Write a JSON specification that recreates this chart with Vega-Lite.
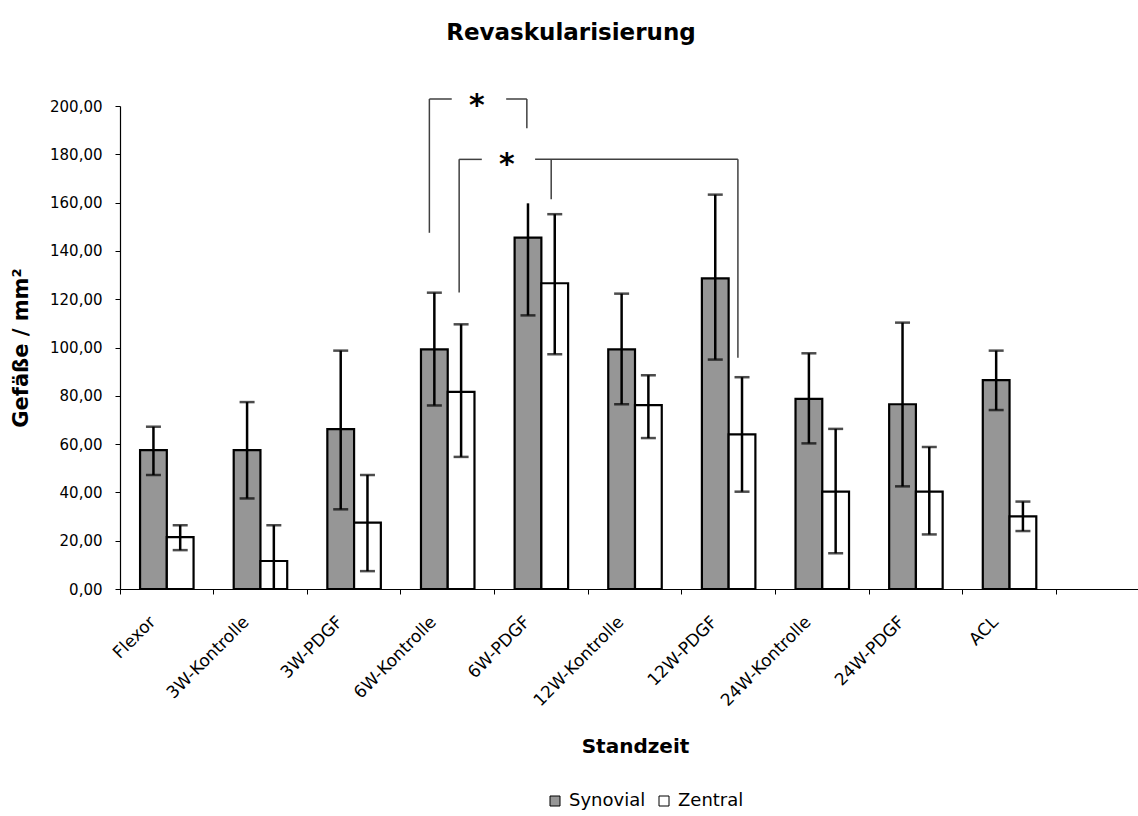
{
  "$schema": "https://vega.github.io/schema/vega-lite/v6.json",
  "autosize": {"type": "none"},
  "padding": {"left": 120, "top": 106, "right": 0, "bottom": 227},
  "width": 1018,
  "height": 483,
  "background": "white",
  "config": {
    "font": "DejaVu Sans",
    "view": {"stroke": null}
  },
  "title": {
    "text": "Revaskularisierung",
    "font": "DejaVu Sans",
    "fontSize": 23,
    "fontWeight": "bold",
    "color": "black",
    "anchor": "middle",
    "dx": -58,
    "offset": 46
  },
  "datasets": {
    "bars": [
      {"cat": "Flexor", "series": "Synovial", "value": 57.5, "lo": 47.2, "hi": 67.2, "capTop": true, "capBot": true},
      {"cat": "Flexor", "series": "Zentral", "value": 21.5, "lo": 16.1, "hi": 26.4, "capTop": true, "capBot": true},
      {"cat": "3W-Kontrolle", "series": "Synovial", "value": 57.5, "lo": 37.5, "hi": 77.4, "capTop": true, "capBot": true},
      {"cat": "3W-Kontrolle", "series": "Zentral", "value": 11.6, "lo": 0, "hi": 26.4, "capTop": true, "capBot": false},
      {"cat": "3W-PDGF", "series": "Synovial", "value": 66.2, "lo": 33.0, "hi": 98.7, "capTop": true, "capBot": true},
      {"cat": "3W-PDGF", "series": "Zentral", "value": 27.5, "lo": 7.4, "hi": 47.2, "capTop": true, "capBot": true},
      {"cat": "6W-Kontrolle", "series": "Synovial", "value": 99.2, "lo": 76.0, "hi": 122.7, "capTop": true, "capBot": true},
      {"cat": "6W-Kontrolle", "series": "Zentral", "value": 81.6, "lo": 54.7, "hi": 109.6, "capTop": true, "capBot": true},
      {"cat": "6W-PDGF", "series": "Synovial", "value": 145.5, "lo": 113.3, "hi": 159.7, "capTop": false, "capBot": true},
      {"cat": "6W-PDGF", "series": "Zentral", "value": 126.6, "lo": 97.2, "hi": 155.2, "capTop": true, "capBot": true},
      {"cat": "12W-Kontrolle", "series": "Synovial", "value": 99.2, "lo": 76.5, "hi": 122.3, "capTop": true, "capBot": true},
      {"cat": "12W-Kontrolle", "series": "Zentral", "value": 76.1, "lo": 62.5, "hi": 88.5, "capTop": true, "capBot": true},
      {"cat": "12W-PDGF", "series": "Synovial", "value": 128.6, "lo": 95.0, "hi": 163.3, "capTop": true, "capBot": true},
      {"cat": "12W-PDGF", "series": "Zentral", "value": 64.0, "lo": 40.3, "hi": 87.7, "capTop": true, "capBot": true},
      {"cat": "24W-Kontrolle", "series": "Synovial", "value": 78.7, "lo": 60.3, "hi": 97.6, "capTop": true, "capBot": true},
      {"cat": "24W-Kontrolle", "series": "Zentral", "value": 40.3, "lo": 14.8, "hi": 66.3, "capTop": true, "capBot": true},
      {"cat": "24W-PDGF", "series": "Synovial", "value": 76.5, "lo": 42.5, "hi": 110.3, "capTop": true, "capBot": true},
      {"cat": "24W-PDGF", "series": "Zentral", "value": 40.3, "lo": 22.6, "hi": 58.8, "capTop": true, "capBot": true},
      {"cat": "ACL", "series": "Synovial", "value": 86.5, "lo": 74.1, "hi": 98.7, "capTop": true, "capBot": true},
      {"cat": "ACL", "series": "Zentral", "value": 30.1, "lo": 24.0, "hi": 36.2, "capTop": true, "capBot": true}
    ],
    "brackets": [
      {"xa": 3.304, "xb": 3.304, "ya": 147.5, "yb": 202.9},
      {"xa": 3.304, "xb": 3.543, "ya": 202.9, "yb": 202.9},
      {"xa": 4.124, "xb": 4.345, "ya": 202.9, "yb": 202.9},
      {"xa": 4.345, "xb": 4.345, "ya": 202.9, "yb": 190.8},
      {"xa": 3.622, "xb": 3.622, "ya": 122.8, "yb": 177.9},
      {"xa": 3.622, "xb": 3.864, "ya": 177.9, "yb": 177.9},
      {"xa": 4.433, "xb": 6.599, "ya": 177.9, "yb": 177.9},
      {"xa": 4.605, "xb": 4.605, "ya": 177.9, "yb": 161.4},
      {"xa": 6.599, "xb": 6.599, "ya": 177.9, "yb": 95.8}
    ],
    "stars": [
      {"xs": 3.811, "ys": 201.8, "label": "*"},
      {"xs": 4.132, "ys": 177.2, "label": "*"}
    ]
  },
  "layer": [
    {
      "data": {"name": "bars"},
      "encoding": {
        "x": {
          "field": "cat",
          "type": "nominal",
          "sort": null,
          "scale": {
            "domain": ["Flexor", "3W-Kontrolle", "3W-PDGF", "6W-Kontrolle", "6W-PDGF", "12W-Kontrolle", "12W-PDGF", "24W-Kontrolle", "24W-PDGF", "ACL", "_"],
            "range": [0, 1030],
            "paddingInner": 0,
            "paddingOuter": 0
          },
          "axis": {
            "title": "Standzeit",
            "titleFont": "DejaVu Sans",
            "titleFontSize": 20,
            "titleFontWeight": "bold",
            "titleColor": "black",
            "titleY": 163,
            "titleBaseline": "alphabetic",
            "bandPosition": 0,
            "labelAngle": -45,
            "labelAlign": "right",
            "labelBaseline": "middle",
            "labelFont": "DejaVu Sans",
            "labelFontSize": 17,
            "labelColor": "black",
            "labelPadding": 25,
            "labelOffset": -14,
            "labelExpr": "datum.value == '_' ? '' : datum.value",
            "labelOverlap": false,
            "tickSize": 5,
            "tickColor": "black",
            "domainColor": "black",
            "domainWidth": 1.2,
            "grid": false
          }
        },
        "xOffset": {
          "field": "series",
          "type": "nominal",
          "scale": {"domain": ["Synovial", "Zentral"], "paddingOuter": 0.75, "paddingInner": 0}
        },
        "y": {
          "type": "quantitative",
          "scale": {"domain": [0, 200], "nice": false, "zero": true},
          "axis": {
            "title": "Gefäße / mm²",
            "titleFont": "DejaVu Sans",
            "titleFontSize": 21,
            "titleFontWeight": "bold",
            "titleColor": "black",
            "titleX": -93,
            "titleBaseline": "alphabetic",
            "values": [0, 20, 40, 60, 80, 100, 120, 140, 160, 180, 200],
            "labelExpr": "replace(format(datum.value, '.2f'), '.', ',')",
            "labelFont": "DejaVu Sans",
            "labelFontSize": 15,
            "labelColor": "black",
            "labelPadding": 13,
            "tickSize": 5,
            "tickColor": "black",
            "domainColor": "black",
            "domainWidth": 1.2,
            "grid": false
          }
        }
      },
      "layer": [
        {
          "mark": {"type": "bar", "stroke": "black", "strokeWidth": 2.2},
          "encoding": {
            "y": {"field": "value"},
            "color": {
              "field": "series",
              "type": "nominal",
              "scale": {"domain": ["Synovial", "Zentral"], "range": ["#969696", "#ffffff"]},
              "legend": {
                "orient": "none",
                "legendX": 426,
                "legendY": 686,
                "direction": "horizontal",
                "title": null,
                "symbolType": "square",
                "symbolSize": 100,
                "symbolStrokeColor": "black",
                "symbolStrokeWidth": 1,
                "symbolOpacity": 1,
                "labelFont": "DejaVu Sans",
                "labelFontSize": 18,
                "labelColor": "black",
                "labelOffset": 5,
                "columnPadding": 9,
                "padding": 0
              }
            }
          }
        },
        {
          "mark": {"type": "rule", "color": "black", "strokeWidth": 2.5},
          "encoding": {
            "y": {"field": "lo"},
            "y2": {"field": "hi"}
          }
        },
        {
          "transform": [{"filter": "datum.capTop"}],
          "mark": {"type": "tick", "color": "black", "thickness": 2.5, "size": 15, "orient": "horizontal"},
          "encoding": {"y": {"field": "hi"}}
        },
        {
          "transform": [{"filter": "datum.capBot"}],
          "mark": {"type": "tick", "color": "black", "thickness": 2.5, "size": 15, "orient": "horizontal"},
          "encoding": {"y": {"field": "lo"}}
        }
      ]
    },
    {
      "layer": [
        {
          "data": {"name": "brackets"},
          "mark": {"type": "rule", "color": "#404040", "strokeWidth": 1.5},
          "encoding": {
            "x": {"field": "xa", "type": "quantitative", "scale": {"domain": [0, 11], "range": [0, 1030], "nice": false, "zero": false}, "axis": null},
            "x2": {"field": "xb"},
            "y": {"field": "ya", "type": "quantitative"},
            "y2": {"field": "yb"}
          }
        },
        {
          "data": {"name": "stars"},
          "mark": {"type": "text", "font": "DejaVu Sans", "fontSize": 30, "fontWeight": "bold", "color": "black", "align": "center", "baseline": "middle", "dy": 4},
          "encoding": {
            "x": {"field": "xs", "type": "quantitative", "scale": {"domain": [0, 11], "range": [0, 1030], "nice": false, "zero": false}, "axis": null},
            "y": {"field": "ys", "type": "quantitative"},
            "text": {"field": "label"}
          }
        }
      ]
    }
  ],
  "resolve": {"scale": {"x": "independent"}, "axis": {"x": "independent"}}
}
